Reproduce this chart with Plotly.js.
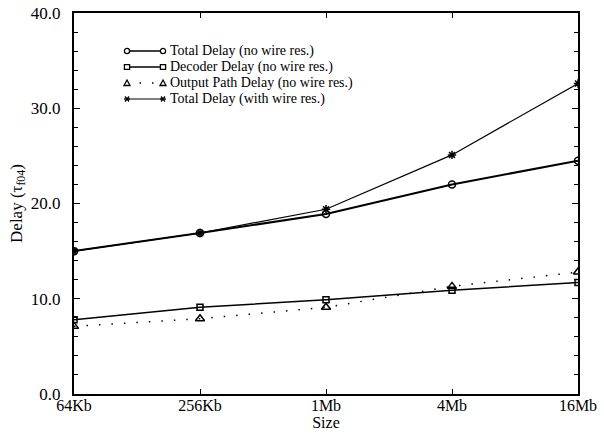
<!DOCTYPE html>
<html>
<head>
<meta charset="utf-8">
<script src="https://cdn.plot.ly/plotly-3.0.1.min.js"></script>
<style>html,body{margin:0;padding:0;background:#fff}#chart{width:604px;height:435px}</style>
</head>
<body>
<div id="chart"></div>
<script>
const sizes = ["64Kb", "256Kb", "1Mb", "4Mb", "16Mb"];
const totalNoWire = [15.0, 16.9, 18.9, 22.0, 24.5];
const decoderNoWire = [7.8, 9.1, 9.9, 10.9, 11.7];
const outputPathNoWire = [7.1, 7.9, 9.1, 11.3, 12.8];
const totalWithWire = [15.0, 16.9, 19.4, 25.1, 32.6];
const seriesNames = ["Total Delay (no wire res.)", "Decoder Delay (no wire res.)",
                     "Output Path Delay (no wire res.)", "Total Delay (with wire res.)"];

const xIdx = sizes.map((s, i) => i);
const F = "Liberation Serif, Times New Roman, serif";
const symbols = ["circle-open", "square-open", "triangle-up-open", "asterisk-open"];
const dashes = ["solid", "solid", "1.5px,11px", "solid"];
const widths = [2, 1.5, 1.5, 1.2];
const msizes = [7, 6, 8, 7];
const values = [totalNoWire, decoderNoWire, outputPathNoWire, totalWithWire];

const traces = values.map((v, i) => ({
  x: xIdx, y: v, name: seriesNames[i], mode: "lines+markers", showlegend: false,
  line: {color: "#000", width: widths[i], dash: dashes[i]},
  marker: {symbol: symbols[i], size: msizes[i], color: "#000", line: {width: 1.5}}
}));

// plot-area geometry (pixels) for placing the hand-made legend
const L = 74, R = 578, T = 13, B = 394;
const px = x => (x - L) / (R - L);
const py = y => (B - y) / (B - T);

const shapes = [], annotations = [];
const lx0 = 127, lx1 = 163, rowY0 = 51, rowDy = 16;
seriesNames.forEach((name, i) => {
  const y = rowY0 + i * rowDy;
  shapes.push({type: "line", xref: "paper", yref: "paper", x0: px(lx0), x1: px(lx1), y0: py(y), y1: py(y),
               line: {color: "#000", width: i === 3 ? 1.2 : 1.3, dash: i === 2 ? "1.5px,11px" : "solid"}});
  [lx0, lx1].forEach(cx => {
    const r = 2.6;
    if (i === 0) {
      shapes.push({type: "circle", xref: "paper", yref: "paper", x0: px(cx - r), x1: px(cx + r), y0: py(y + r), y1: py(y - r),
                   fillcolor: "#fff", line: {color: "#000", width: 1.3}});
    } else if (i === 1) {
      shapes.push({type: "rect", xref: "paper", yref: "paper", x0: px(cx - r), x1: px(cx + r), y0: py(y + r - 0.3), y1: py(y - r + 0.3),
                   fillcolor: "#fff", line: {color: "#000", width: 1.3}});
    } else if (i === 2) {
      const p = `M${px(cx - 3)},${py(y + 2.5)} L${px(cx + 3)},${py(y + 2.5)} L${px(cx)},${py(y - 3)} Z`;
      shapes.push({type: "path", xref: "paper", yref: "paper", path: p, fillcolor: "#fff", line: {color: "#000", width: 1.3}});
    } else {
      [[-3, 0, 3, 0], [-2, -2.5, 2, 2.5], [-2, 2.5, 2, -2.5]].forEach(s => {
        shapes.push({type: "line", xref: "paper", yref: "paper", x0: px(cx + s[0]), x1: px(cx + s[2]), y0: py(y + s[1]), y1: py(y + s[3]),
                     line: {color: "#000", width: 1.3}});
      });
    }
  });
  annotations.push({xref: "paper", yref: "paper", x: px(lx1 + 6), y: py(y), xanchor: "left", yanchor: "middle",
                    text: name, showarrow: false, borderpad: 0, font: {family: F, size: 14, color: "#000"}});
});

const layout = {
  width: 604, height: 435,
  margin: {l: L, r: 604 - R, t: T, b: 435 - B},
  paper_bgcolor: "#fff", plot_bgcolor: "#fff",
  font: {family: F, size: 16, color: "#000"},
  showlegend: false,
  shapes: shapes, annotations: annotations,
  xaxis: {
    range: [0, 4], tickmode: "array", tickvals: xIdx, ticktext: sizes,
    showgrid: false, zeroline: false, showline: true, linecolor: "#000", linewidth: 2,
    mirror: "ticks", ticks: "inside", ticklen: 5, tickcolor: "#000",
    tickfont: {family: F, size: 16}, ticklabelstandoff: -4,
    title: {text: "Size", font: {family: F, size: 16}, standoff: 0}
  },
  yaxis: {
    range: [0, 40], tickmode: "linear", tick0: 0, dtick: 10, tickformat: ".1f",
    showgrid: false, zeroline: false, showline: true, linecolor: "#000", linewidth: 2,
    mirror: "ticks", ticks: "inside", ticklen: 6, tickcolor: "#000",
    minor: {dtick: 2, ticks: "inside", ticklen: 4, tickcolor: "#000", showgrid: false},
    tickfont: {family: F, size: 17}, ticklabelstandoff: 8,
    title: {text: "Delay (τ<sub>f04</sub>)", font: {family: F, size: 17}, standoff: 4}
  }
};

Plotly.newPlot("chart", traces, layout, {displayModeBar: false, staticPlot: true});
</script>
</body>
</html>
